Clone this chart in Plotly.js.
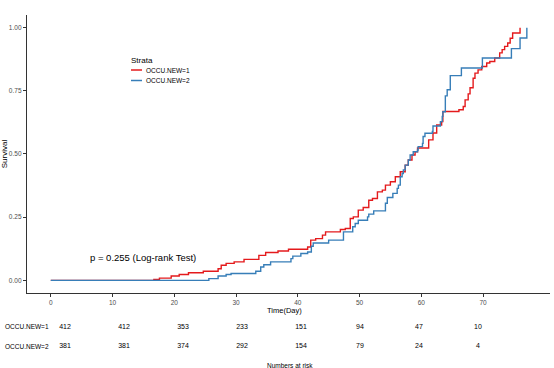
<!DOCTYPE html>
<html>
<head>
<meta charset="utf-8">
<script src="https://cdn.plot.ly/plotly-3.0.1.min.js"></script>
<style>html,body{margin:0;padding:0;background:#fff;}#chart{width:554px;height:368px;}</style>
</head>
<body>
<div id="chart"></div>
<script>
// Step curves (time, cumulative value after each step)
var timeG1 = [0,16.7,17.6,19.5,20.8,22.3,24.7,27.1,27.6,28.4,29.7,31.3,33.7,34.8,36.8,38.5,41.6,42.1,42.9,44.0,44.5,46.9,47.7,48.5,49.0,49.8,50.6,51.5,52.1,52.9,53.7,54.2,55.0,55.8,56.6,57.4,57.9,58.5,59.0,59.4,61.2,61.9,62.5,63.3,63.5,66.1,66.8,67.1,67.6,67.9,68.4,68.7,69.2,69.8,70.6,71.1,71.9,72.7,73.1,73.5,74.0,74.4,74.8,76.0];
var survG1 = [0,0.004,0.009,0.017,0.023,0.030,0.036,0.046,0.060,0.067,0.073,0.083,0.099,0.110,0.116,0.123,0.132,0.159,0.165,0.179,0.192,0.201,0.205,0.245,0.251,0.278,0.288,0.317,0.324,0.350,0.357,0.377,0.390,0.410,0.430,0.456,0.476,0.496,0.509,0.524,0.556,0.583,0.615,0.628,0.668,0.675,0.688,0.714,0.738,0.762,0.800,0.820,0.833,0.846,0.860,0.866,0.880,0.900,0.913,0.926,0.939,0.958,0.979,1.0];
var timeG2 = [0,25.6,27.1,28.4,29.2,33.2,34.0,34.5,35.6,38.9,39.2,40.5,41.6,42.2,42.5,45.0,47.4,48.9,49.3,49.8,51.3,51.5,52.3,54.2,54.5,55.4,56.1,56.3,56.6,56.9,57.1,57.4,57.9,58.2,58.7,59.4,59.5,60.2,60.3,60.6,61.8,61.9,63.1,63.4,63.5,63.9,64.2,64.7,66.5,69.9,74.6,76.0,77.1];
var survG2 = [0,0.007,0.017,0.023,0.027,0.036,0.053,0.062,0.073,0.086,0.096,0.106,0.112,0.135,0.148,0.159,0.192,0.212,0.225,0.238,0.251,0.262,0.275,0.305,0.328,0.344,0.364,0.377,0.410,0.423,0.437,0.456,0.476,0.496,0.509,0.516,0.529,0.542,0.569,0.582,0.589,0.611,0.628,0.649,0.667,0.730,0.754,0.810,0.840,0.880,0.917,0.959,1.0];

var strataNames = ['OCCU.NEW=1','OCCU.NEW=2'];
var riskTimes = [0,10,20,30,40,50,60,70];
var riskG1 = [412,412,353,233,151,94,47,10];
var riskG2 = [381,381,374,292,154,79,24,4];
var xTicks = [0,10,20,30,40,50,60,70];
var yTicks = [0,0.25,0.5,0.75,1];
var yTickText = ['0.00','0.25','0.50','0.75','1.00'];
var pText = 'p = 0.255 (Log-rank Test)';

var red = '#E41A1C', blue = '#377EB8';
var FONT = 'Liberation Sans, Arial, sans-serif';

var traces = [
  {x: timeG1, y: survG1, type:'scatter', mode:'lines', line:{shape:'hv', color:red, width:1.4}, name:strataNames[0], showlegend:false, xaxis:'x', yaxis:'y'},
  {x: timeG2, y: survG2, type:'scatter', mode:'lines', line:{shape:'hv', color:blue, width:1.4}, name:strataNames[1], showlegend:false, xaxis:'x', yaxis:'y'},
  {x: riskTimes, y: riskTimes.map(function(){return 1;}), text: riskG1.map(String), type:'scatter', mode:'text', textfont:{size:7, color:'#000', family:FONT}, showlegend:false, hoverinfo:'skip', xaxis:'x2', yaxis:'y2', cliponaxis:false},
  {x: riskTimes, y: riskTimes.map(function(){return 0;}), text: riskG2.map(String), type:'scatter', mode:'text', textfont:{size:7, color:'#000', family:FONT}, showlegend:false, hoverinfo:'skip', xaxis:'x2', yaxis:'y2', cliponaxis:false}
];

var plotW = 523, plotH = 353;
function px2paperX(px){ return (px-27)/plotW; }
function py2paperY(py){ return (368-py)/plotH; }

var layout = {
  width:554, height:368,
  margin:{l:27, r:4, t:15, b:0},
  paper_bgcolor:'#fff', plot_bgcolor:'#fff',
  font:{family:FONT, color:'#000'},
  showlegend:false,
  xaxis:{range:[-3.85,80.85], tickvals:xTicks, ticks:'outside', ticklen:3, tickcolor:'#333', tickwidth:1,
         showline:true, linecolor:'#333', linewidth:1.2, showgrid:false, zeroline:false,
         tickfont:{size:6.5, color:'#4D4D4D'}, anchor:'y'},
  yaxis:{domain:[0.2125,1], range:[-0.05,1.05], tickvals:yTicks, ticktext:yTickText, ticks:'outside', ticklen:3, tickcolor:'#333', tickwidth:1,
         showline:true, linecolor:'#333', linewidth:1.2, showgrid:false, zeroline:false,
         tickfont:{size:6.5, color:'#4D4D4D'}, anchor:'x',
         title:{text:'Survival', font:{size:8, color:'#000'}, standoff:3}},
  xaxis2:{domain:[0,1], range:[-6.44,82.2], visible:false, anchor:'y2', fixedrange:true},
  yaxis2:{domain:[0,0.2125], range:[-1.154,2.783], visible:false, anchor:'x2', fixedrange:true},
  annotations:[
    {x:15, y:0.092, xref:'x', yref:'y', text:pText, showarrow:false, font:{size:9.5, color:'#000'}, xanchor:'center', yanchor:'middle'},
    {x:px2paperX(284), y:py2paperY(304.5), xref:'paper', yref:'paper', text:'Time(Day)', showarrow:false, xanchor:'center', yanchor:'top', borderpad:0, font:{size:7.5}},
    {x:px2paperX(3), y:1, xref:'paper', yref:'y2', text:strataNames[0], showarrow:false, xanchor:'left', yanchor:'middle', font:{size:6.5}},
    {x:px2paperX(3), y:0, xref:'paper', yref:'y2', text:strataNames[1], showarrow:false, xanchor:'left', yanchor:'middle', font:{size:6.5}},
    {x:px2paperX(290), y:py2paperY(365), xref:'paper', yref:'paper', text:'Numbers at risk', showarrow:false, xanchor:'center', yanchor:'middle', font:{size:6.5}},
    {x:px2paperX(129), y:py2paperY(60), xref:'paper', yref:'paper', text:'Strata', showarrow:false, xanchor:'left', yanchor:'middle', font:{size:8}},
    {x:px2paperX(144), y:py2paperY(70), xref:'paper', yref:'paper', text:strataNames[0], showarrow:false, xanchor:'left', yanchor:'middle', font:{size:6.5}},
    {x:px2paperX(144), y:py2paperY(80.5), xref:'paper', yref:'paper', text:strataNames[1], showarrow:false, xanchor:'left', yanchor:'middle', font:{size:6.5}}
  ],
  shapes:[
    {type:'line', xref:'paper', yref:'paper', x0:px2paperX(131), x1:px2paperX(142), y0:py2paperY(70), y1:py2paperY(70), line:{color:red, width:1.5}},
    {type:'line', xref:'paper', yref:'paper', x0:px2paperX(131), x1:px2paperX(142), y0:py2paperY(80.5), y1:py2paperY(80.5), line:{color:blue, width:1.5}}
  ]
};

Plotly.newPlot('chart', traces, layout, {displayModeBar:false, staticPlot:true});
</script>
</body>
</html>
